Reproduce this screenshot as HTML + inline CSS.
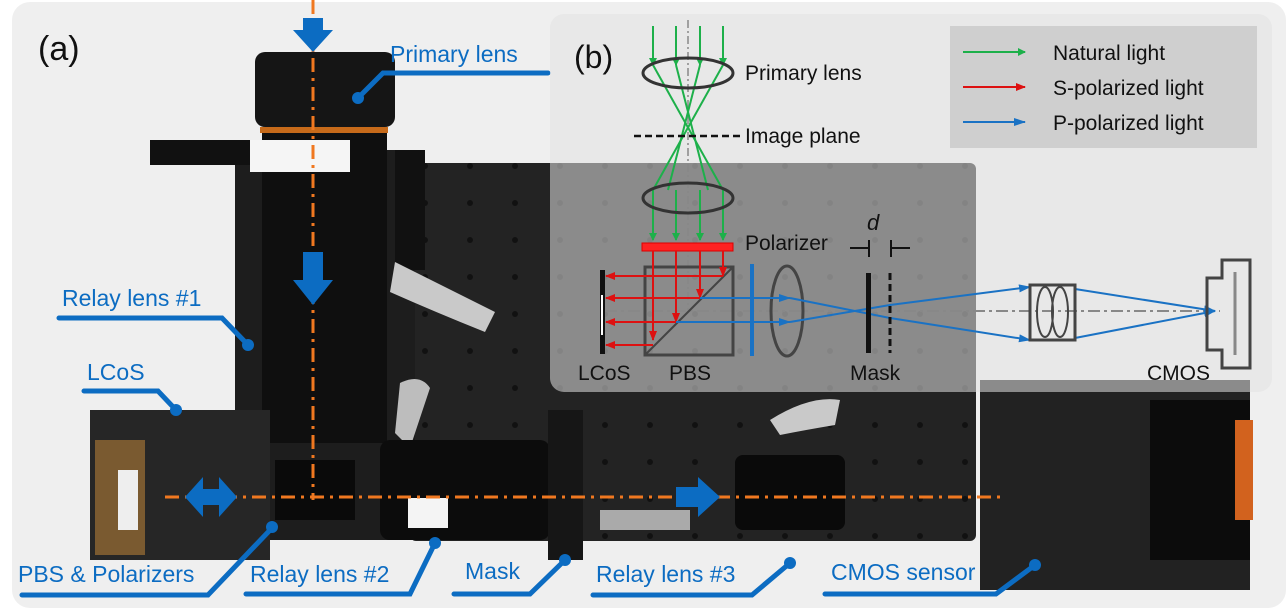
<!DOCTYPE html>
<html><head><meta charset="utf-8"><style>
html,body{margin:0;padding:0;background:#fff;width:1288px;height:611px;overflow:hidden}
svg{display:block}
.lbl{font-family:"Liberation Sans","DejaVu Sans",sans-serif;fill:#0c6cc2;font-size:23px}
.blk{font-family:"Liberation Sans","DejaVu Sans",sans-serif;fill:#111;font-size:21px}
</style></head><body>
<svg width="1288" height="611" viewBox="0 0 1288 611" xmlns="http://www.w3.org/2000/svg">
<defs>
<marker id="mg" markerWidth="8" markerHeight="8" refX="7" refY="4" orient="auto" markerUnits="userSpaceOnUse"><path d="M0,0 L8,4 L0,8z" fill="#1db04a"/></marker>
<marker id="mr" markerWidth="10" markerHeight="8" refX="9" refY="4" orient="auto" markerUnits="userSpaceOnUse"><path d="M0,0 L10,4 L0,8z" fill="#d11"/></marker>
<marker id="mb" markerWidth="12" markerHeight="8" refX="11" refY="4" orient="auto" markerUnits="userSpaceOnUse"><path d="M0,0 L12,4 L0,8z" fill="#1a72c4"/></marker>
<pattern id="holes" width="45" height="37" patternUnits="userSpaceOnUse"><circle cx="20" cy="18" r="3" fill="#111"/></pattern>
</defs>
<rect x="12" y="2" width="1274" height="606" rx="18" fill="#efefef"/>
<!-- photo -->
<g>
<rect x="410" y="163" width="566" height="378" rx="6" fill="#232323"/>
<rect x="410" y="163" width="566" height="378" fill="url(#holes)"/>
<rect x="235" y="150" width="180" height="390" fill="#1d1d1d"/>
<rect x="255" y="52" width="140" height="75" rx="10" fill="#151515"/>
<rect x="260" y="127" width="128" height="6" fill="#c66a1a"/>
<rect x="262" y="133" width="125" height="310" fill="#0f0f0f"/>
<rect x="150" y="140" width="160" height="25" fill="#111"/>
<rect x="250" y="140" width="100" height="32" fill="#f5f5f5"/>
<rect x="395" y="150" width="30" height="120" fill="#111"/>
<path d="M395,262 q40,20 100,50 l-10,20 q-50,-20 -95,-40z" fill="#c9c9c9"/>
<path d="M400,383 q20,-10 30,5 l-20,60 -15,-15z" fill="#bdbdbd"/>
<rect x="90" y="410" width="180" height="150" fill="#262626"/>
<rect x="95" y="440" width="50" height="115" fill="#7a5a30"/>
<rect x="118" y="470" width="20" height="60" fill="#eee"/>
<rect x="275" y="460" width="80" height="60" fill="#0a0a0a"/>
<rect x="380" y="440" width="170" height="100" rx="10" fill="#0c0c0c"/>
<rect x="408" y="498" width="40" height="30" fill="#f4f4f4"/>
<rect x="548" y="410" width="35" height="150" fill="#161616"/>
<rect x="600" y="510" width="90" height="20" fill="#aaa"/>
<rect x="735" y="455" width="110" height="75" rx="8" fill="#0a0a0a"/>
<path d="M770,420 q40,-25 70,-20 l-5,25 q-30,5 -55,10z" fill="#c9c9c9"/>
<rect x="980" y="380" width="270" height="210" fill="#222"/>
<rect x="1150" y="400" width="100" height="160" fill="#0c0c0c"/>
<rect x="1235" y="420" width="18" height="100" fill="#d2621e"/>
</g>
<!-- orange axes -->
<line x1="313" y1="0" x2="313" y2="500" stroke="#f07820" stroke-width="3" stroke-dasharray="14,6,3,6"/>
<line x1="165" y1="497" x2="1000" y2="497" stroke="#f07820" stroke-width="3" stroke-dasharray="14,6,3,6"/>
<!-- blue arrows -->
<path d="M303,18 h20 v12 h10 l-20,22 -20,-22 h10z" fill="#0c6cc2"/>
<path d="M303,252 h20 v28 h10 l-20,25 -20,-25 h10z" fill="#0c6cc2"/>
<path d="M185,497 l18,-20 v12 h16 v-12 l18,20 -18,20 v-12 h-16 v12z" fill="#0c6cc2"/>
<path d="M676,487 h22 v-10 l22,20 -22,20 v-10 h-22z" fill="#0c6cc2"/>
<text x="38" y="60" font-family="Liberation Sans,sans-serif" font-size="34" fill="#111">(a)</text>
<!-- callouts -->
<g fill="none" stroke="#0c6cc2" stroke-width="5" stroke-linecap="round">
<path d="M548,73 H383 L358,98"/>
<path d="M59,318 H222 L248,345"/>
<path d="M84,391 H158 L176,410"/>
<path d="M22,595 H208 L272,528"/>
<path d="M246,594 H410 L435,543"/>
<path d="M454,594 H530 L565,560"/>
<path d="M593,595 H752 L790,563"/>
<path d="M825,594 H996 L1035,565"/>
</g>
<g fill="#0c6cc2"><circle cx="358" cy="98" r="6"/><circle cx="248" cy="345" r="6"/><circle cx="176" cy="410" r="6"/><circle cx="272" cy="527" r="6"/><circle cx="435" cy="543" r="6"/><circle cx="565" cy="560" r="6"/><circle cx="790" cy="563" r="6"/><circle cx="1035" cy="565" r="6"/></g>
<text class="lbl" x="390" y="62">Primary lens</text>
<text class="lbl" x="62" y="306">Relay lens #1</text>
<text class="lbl" x="87" y="380">LCoS</text>
<text class="lbl" x="18" y="582">PBS &amp; Polarizers</text>
<text class="lbl" x="250" y="582">Relay lens #2</text>
<text class="lbl" x="465" y="579">Mask</text>
<text class="lbl" x="596" y="582">Relay lens #3</text>
<text class="lbl" x="831" y="580">CMOS sensor</text>
<!-- inset b -->
<g>
<rect x="550" y="14" width="722" height="378" rx="14" fill="#e2e2e2" fill-opacity="0.55"/>
<rect x="950" y="26" width="307" height="122" fill="#cfcfcf"/>
<g stroke-width="2"><line x1="963" y1="52" x2="1025" y2="52" stroke="#1db04a" marker-end="url(#mg)"/>
<line x1="963" y1="87" x2="1025" y2="87" stroke="#d11" marker-end="url(#mr)"/>
<line x1="963" y1="122" x2="1025" y2="122" stroke="#1a72c4" marker-end="url(#mb)"/></g>
<text class="blk" x="1053" y="60">Natural light</text>
<text class="blk" x="1053" y="95">S-polarized light</text>
<text class="blk" x="1053" y="130">P-polarized light</text>
<text x="574" y="68" font-family="Liberation Sans,sans-serif" font-size="32" fill="#111">(b)</text>
<line x1="688" y1="20" x2="688" y2="310" stroke="#888" stroke-width="1.5" stroke-dasharray="8,3,2,3"/>
<line x1="605" y1="311" x2="1220" y2="311" stroke="#888" stroke-width="2" stroke-dasharray="12,4,3,4"/>
<g stroke="#1db04a" stroke-width="2" fill="none">
<line x1="653" y1="26" x2="653" y2="65" marker-end="url(#mg)"/><line x1="676" y1="26" x2="676" y2="65" marker-end="url(#mg)"/><line x1="700" y1="26" x2="700" y2="65" marker-end="url(#mg)"/><line x1="723" y1="26" x2="723" y2="65" marker-end="url(#mg)"/>
<path d="M653,65 L723,190"/><path d="M676,65 L708,190"/><path d="M700,65 L668,190"/><path d="M723,65 L653,190"/>
<path d="M653,190 L653,240" marker-end="url(#mg)"/><path d="M676,190 L676,240" marker-end="url(#mg)"/><path d="M700,190 L700,240" marker-end="url(#mg)"/><path d="M723,190 L723,240" marker-end="url(#mg)"/>
</g>
<ellipse cx="688" cy="73" rx="45" ry="15" fill="none" stroke="#333" stroke-width="3"/>
<ellipse cx="688" cy="198" rx="45" ry="15" fill="none" stroke="#333" stroke-width="3"/>
<line x1="634" y1="136" x2="740" y2="136" stroke="#111" stroke-width="2.5" stroke-dasharray="7,4"/>
<text class="blk" x="745" y="80">Primary lens</text>
<text class="blk" x="745" y="143">Image plane</text>
<text class="blk" x="745" y="250">Polarizer</text>
<text x="867" y="230" font-family="Liberation Sans,sans-serif" font-style="italic" font-size="22" fill="#111">d</text>
<rect x="642" y="243" width="91" height="8" fill="#f22" stroke="#d00"/>
<rect x="645" y="267" width="88" height="88" fill="none" stroke="#444" stroke-width="3"/>
<line x1="645" y1="355" x2="733" y2="267" stroke="#444" stroke-width="2"/>
<g stroke="#d11" stroke-width="2" fill="none">
<line x1="653" y1="251" x2="653" y2="340" marker-end="url(#mr)"/><line x1="676" y1="251" x2="676" y2="322" marker-end="url(#mr)"/><line x1="700" y1="251" x2="700" y2="298" marker-end="url(#mr)"/><line x1="723" y1="251" x2="723" y2="276" marker-end="url(#mr)"/>
<line x1="723" y1="276" x2="606" y2="276" marker-end="url(#mr)"/><line x1="700" y1="298" x2="606" y2="298" marker-end="url(#mr)"/><line x1="676" y1="322" x2="606" y2="322" marker-end="url(#mr)"/><line x1="653" y1="345" x2="606" y2="345" marker-end="url(#mr)"/>
</g>
<rect x="600" y="270" width="5" height="84" fill="#111"/>
<rect x="601" y="295" width="2" height="40" fill="#fff"/>
<rect x="750" y="264" width="4" height="92" fill="#1a72c4"/>
<ellipse cx="787" cy="311" rx="16" ry="45" fill="none" stroke="#444" stroke-width="3"/>
<g stroke="#1a72c4" stroke-width="2" fill="none">
<path d="M700,298 L790,298" marker-end="url(#mb)"/><path d="M676,322 L790,322" marker-end="url(#mb)"/>
<path d="M790,298 L890,318 L1030,340" marker-end="url(#mb)"/><path d="M790,322 L890,305 L1030,287" marker-end="url(#mb)"/>
<path d="M1075,289 L1215,311" marker-end="url(#mb)"/><path d="M1075,338 L1215,311" marker-end="url(#mb)"/>
</g>
<rect x="866" y="273" width="5" height="80" fill="#111"/>
<line x1="890" y1="273" x2="890" y2="353" stroke="#111" stroke-width="3" stroke-dasharray="7,4"/>
<line x1="869" y1="240" x2="869" y2="257" stroke="#111" stroke-width="2"/><line x1="891" y1="240" x2="891" y2="257" stroke="#111" stroke-width="2"/>
<path d="M850,248 h18 M910,248 h-18" stroke="#111" stroke-width="2"/>
<rect x="1030" y="285" width="45" height="55" fill="none" stroke="#444" stroke-width="3"/>
<ellipse cx="1045" cy="312" rx="8" ry="25" fill="none" stroke="#444" stroke-width="2"/><ellipse cx="1060" cy="312" rx="8" ry="25" fill="none" stroke="#444" stroke-width="2"/>
<path d="M1222,260 H1250 V368 H1222 V350 H1207 V278 H1222z" fill="none" stroke="#444" stroke-width="3"/>
<line x1="1235" y1="272" x2="1235" y2="355" stroke="#888" stroke-width="3"/>
<text class="blk" x="578" y="380">LCoS</text>
<text class="blk" x="669" y="380">PBS</text>
<text class="blk" x="850" y="380">Mask</text>
<text class="blk" x="1147" y="380">CMOS</text>
</g>
</svg>
</body></html>
